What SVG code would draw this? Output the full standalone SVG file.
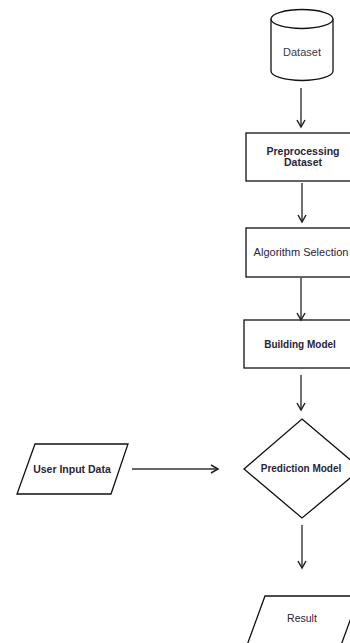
<svg xmlns="http://www.w3.org/2000/svg" width="350" height="643" viewBox="0 0 350 643">
<defs>
<style>
.s{fill:#fff;stroke:#111;stroke-width:1.3}
.t{font-family:"Liberation Sans",Arial,sans-serif;font-size:10px;fill:#2a2438;text-anchor:middle}
.b{font-weight:bold}
.c{fill:none;stroke:#333;stroke-width:1.4}
</style>
<marker id="a" markerWidth="10" markerHeight="10" refX="8" refY="5" orient="auto" markerUnits="userSpaceOnUse">
<path d="M1,1 L8,5 L1,9" fill="none" stroke="#222" stroke-width="1.5"/>
</marker>
</defs>
<rect width="350" height="643" fill="#fff"/>
<g id="dataset">
<path class="s" d="M271,19 A31,9.5 0 0 1 333,19 L333,71 A31,9.5 0 0 1 271,71 Z"/>
<path class="s" d="M271,19 A31,9.5 0 0 0 333,19" fill="none"/>
<text class="t" x="302" y="56" style="font-size:11px;fill:#3a3a4a">Dataset</text>
</g>
<g id="preprocessing">
<rect class="s" x="246" y="133" width="110" height="48"/>
<text class="t b" x="303" y="155" style="font-size:10.5px">Preprocessing</text>
<text class="t b" x="303" y="166" style="font-size:10.5px">Dataset</text>
</g>
<g id="algorithm">
<rect class="s" x="246" y="228" width="110" height="49"/>
<text class="t" x="301" y="256" style="font-size:11px">Algorithm Selection</text>
</g>
<g id="building">
<rect class="s" x="244" y="320" width="112" height="48"/>
<text class="t b" x="300" y="348" style="font-size:10px">Building Model</text>
</g>
<g id="prediction">
<path class="s" d="M302,419 L361,469 L302,518 L244,469 Z"/>
<text class="t b" x="301" y="472">Prediction Model</text>
</g>
<g id="userinput">
<path class="s" d="M35,444 L128,444 L111,494 L17,494 Z"/>
<text class="t b" x="72" y="473" style="font-size:10.5px">User Input Data</text>
</g>
<g id="result">
<path class="s" d="M265,596 L359,596 L340,648 L246,648 Z"/>
<text class="t" x="302" y="622" style="font-size:10.5px">Result</text>
</g>
<g id="connectors">
<line class="c" x1="301" y1="88" x2="301" y2="127" marker-end="url(#a)"/>
<line class="c" x1="302" y1="183" x2="302" y2="222" marker-end="url(#a)"/>
<line class="c" x1="301" y1="278" x2="301" y2="320" marker-end="url(#a)"/>
<line class="c" x1="301" y1="375" x2="301" y2="410" marker-end="url(#a)"/>
<line class="c" x1="302" y1="525" x2="302" y2="568" marker-end="url(#a)"/>
<line class="c" x1="132" y1="469" x2="218" y2="469" marker-end="url(#a)"/>
</g>
</svg>
